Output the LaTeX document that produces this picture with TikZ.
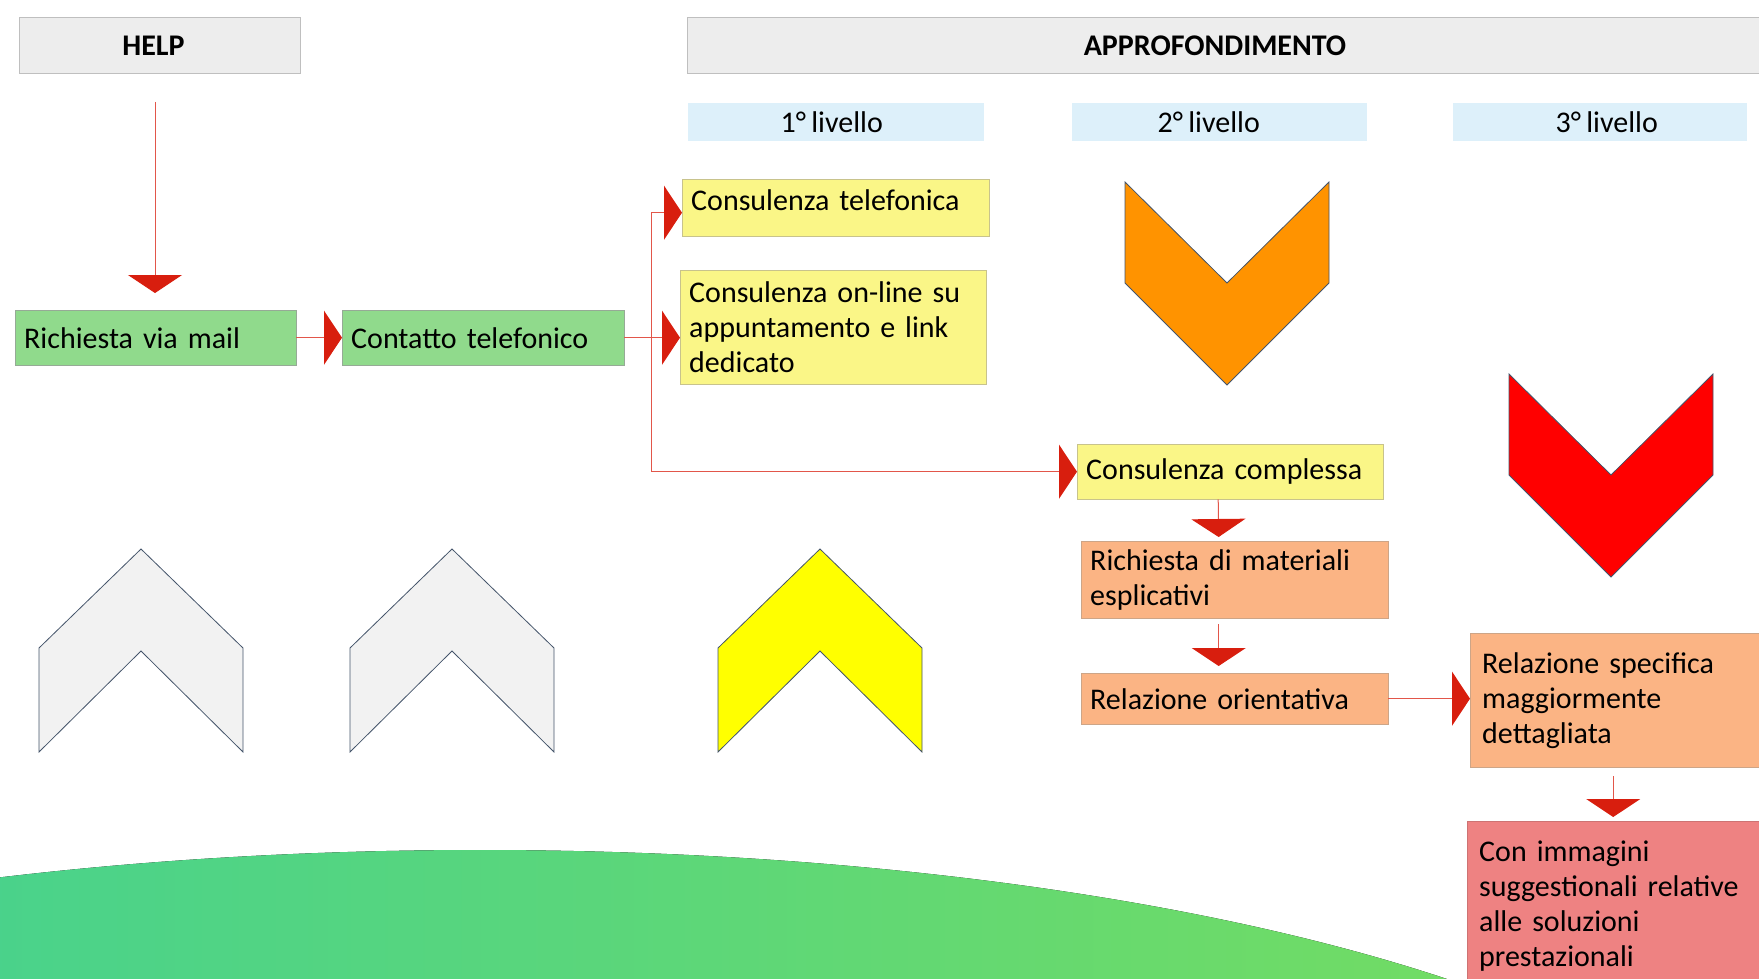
\documentclass[tikz,border=0pt]{standalone}
\usepackage{fontspec}
\setmainfont{Carlito}[WordSpace=0.8]
\usetikzlibrary{
    arrows.meta,
    positioning,
    calc
}
\definecolor{HdrGray}{RGB}{237,237,237}
\definecolor{HdrLine}{RGB}{191,191,191}
\definecolor{LvlBlue}{RGB}{221,240,250}
\definecolor{BoxGreen}{RGB}{144,218,140}
\definecolor{BoxGreenLine}{RGB}{150,170,150}
\definecolor{BoxYellow}{RGB}{250,246,135}
\definecolor{BoxYellowLine}{RGB}{200,195,140}
\definecolor{BoxOrange}{RGB}{251,180,132}
\definecolor{BoxOrangeLine}{RGB}{205,165,135}
\definecolor{BoxRed}{RGB}{238,130,130}
\definecolor{BoxRedLine}{RGB}{205,115,115}
\definecolor{ArrRed}{RGB}{216,30,14}
\definecolor{ChevLine}{RGB}{68,84,106}
\definecolor{ChevGray}{RGB}{242,242,242}
\definecolor{ChevOrange}{RGB}{255,147,0}
\definecolor{ChevYellow}{RGB}{255,255,0}
\definecolor{HillL}{RGB}{52,205,160}
\definecolor{HillR}{RGB}{122,222,92}
\tikzset{
  block/.style = {draw, anchor=north west, inner xsep=9pt, inner ysep=2pt,
                  align=left, font=\fontsize{30}{35}\selectfont},
  gbox/.style  = {block, fill=BoxGreen, draw=BoxGreenLine},
  ybox/.style  = {block, fill=BoxYellow, draw=BoxYellowLine},
  obox/.style  = {block, fill=BoxOrange, draw=BoxOrangeLine},
  rbox/.style  = {block, fill=BoxRed, draw=BoxRedLine},
  hdr/.style   = {draw=HdrLine, fill=HdrGray, anchor=north west, line width=1pt,
                  minimum height=56pt, font=\fontsize{30}{35}\selectfont\bfseries},
  lvl/.style   = {fill=LvlBlue, anchor=north west, minimum height=38pt,
                  font=\fontsize{30}{35}\selectfont},
  arr/.style   = {draw=ArrRed!75, line width=1pt,
                  -{Triangle[length=18pt,width=54pt,color=ArrRed]}},
  chev/.style  = {draw=ChevLine, line width=0.8pt, line join=miter}
}

\begin{document}
\begin{tikzpicture}[x=1pt,y=-1pt]
\useasboundingbox (0,0) rectangle (1759,979);
\clip (0,0) rectangle (1759,979);
% hill in the background
\fill[left color=HillL, right color=HillR] (480,1239) ellipse [x radius=1300, y radius=389];
% headers
\node[hdr, minimum width=281pt] (help) at (19,17) {\hspace*{-13pt}HELP};
\node[hdr, minimum width=1080pt] (appro) at (687,17) {\hspace*{-25pt}APPROFONDIMENTO};
\node[lvl, minimum width=296pt] (lv1) at (688,103) {\hspace*{-9pt}1° livello};
\node[lvl, minimum width=295pt] (lv2) at (1072,103) {\hspace*{-22pt}2° livello};
\node[lvl, minimum width=294pt] (lv3) at (1453,103) {\hspace*{13pt}3° livello};
% help
\node[gbox, text width=263pt, minimum height=55pt] (mail) at (15,310) {Richiesta via mail};
\node[gbox, text width=264pt, minimum height=55pt] (tel) at (342,310) {Contatto telefonico};
% level 1
\node[ybox, text width=289pt, minimum height=57pt, text height=21pt, text depth=15pt] (ctel) at (682,179) {Consulenza telefonica};
\node[ybox, text width=288pt, minimum height=114pt] (conl) at (680,270) {Consulenza on-line su\\appuntamento e link\\dedicato};
% level 2
\node[ybox, text width=288pt, minimum height=55pt] (ccomp) at (1077,444) {Consulenza complessa};
\node[obox, text width=289pt, minimum height=77pt] (rmat) at (1081,541) {Richiesta di materiali\\esplicativi};
\node[obox, text width=289pt, minimum height=51pt] (rorient) at (1081,673) {Relazione orientativa};
% level 3
\node[obox, text width=280pt, minimum height=134pt, inner xsep=12pt] (rspec) at (1470,633) {Relazione specifica\\maggiormente\\dettagliata};
\node[rbox, text width=280pt, minimum height=170pt, inner xsep=12pt] (cimm) at (1467,821) {Con immagini\\suggestionali relative\\alle soluzioni\\prestazionali};
% chevrons
\draw[chev, fill=ChevGray] (39,648) -- ++(102,-99) -- ++(102,99) -- ++(0,104) -- ++(-102,-101) -- ++(-102,101) -- cycle;
\draw[chev, fill=ChevGray] (350,648) -- ++(102,-99) -- ++(102,99) -- ++(0,104) -- ++(-102,-101) -- ++(-102,101) -- cycle;
\draw[chev, fill=ChevYellow] (718,648) -- ++(102,-99) -- ++(102,99) -- ++(0,104) -- ++(-102,-101) -- ++(-102,101) -- cycle;
\draw[chev, fill=ChevOrange] (1125,182) -- ++(102,101) -- ++(102,-101) -- ++(0,101) -- ++(-102,102) -- ++(-102,-102) -- cycle;
\draw[chev, fill=red] (1509,374) -- ++(102,101) -- ++(102,-101) -- ++(0,101) -- ++(-102,102) -- ++(-102,-102) -- cycle;
% connectors
\coordinate (helpout) at ($(help.south)+(-5,28)$);
\coordinate (split) at ($(tel.east)+(27,0)$);
\draw[arr, shorten >=17pt] (helpout) -- (helpout |- mail.north);
\draw[arr] (mail.east) -- (tel.west);
\draw[draw=ArrRed!75, line width=1pt] (tel.east) -- (split);
\draw[arr] (split) |- ([yshift=-5pt]ctel.west);
\draw[arr] (split) -- (conl.west |- split);
\draw[arr] (split) |- (ccomp.west);
\draw[arr, shorten >=4pt] ([xshift=-12pt]ccomp.south) -- ([xshift=-16pt]rmat.north);
\draw[arr, shorten <=6pt, shorten >=7pt] ([xshift=-16pt]rmat.south) -- ([xshift=-16pt]rorient.north);
\draw[arr] (rorient.east) -- (rorient.east -| rspec.west);
\draw[arr, shorten <=9pt, shorten >=4pt] ([xshift=-9pt]rspec.south) -- ([xshift=-6pt]cimm.north);
\end{tikzpicture}
\end{document}
